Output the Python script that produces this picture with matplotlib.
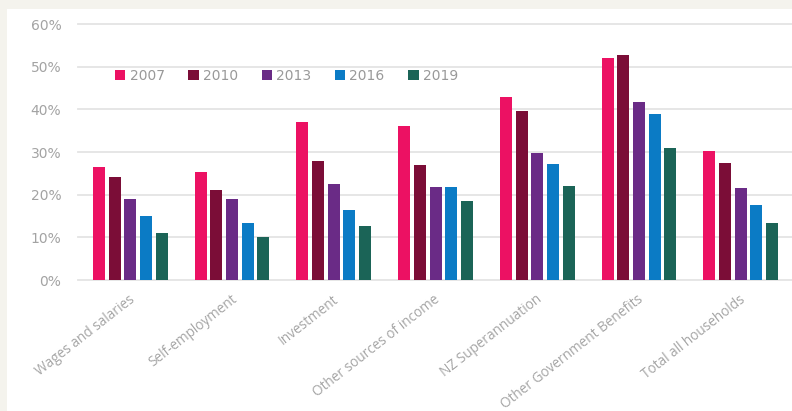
import numpy as np
import matplotlib.pyplot as plt
from matplotlib.patches import Rectangle


# --- Data ---
categories = [
    "Wages and salaries",
    "Self-employment",
    "Investment",
    "Other sources of income",
    "NZ Superannuation",
    "Other Government Benefits",
    "Total all households",
]
years = ["2007", "2010", "2013", "2016", "2019"]

share_2007 = [26.4, 25.4, 37.1, 36.2, 42.9, 52.0, 30.3]
share_2010 = [24.1, 21.2, 27.8, 27.0, 39.5, 52.7, 27.4]
share_2013 = [19.0, 19.1, 22.6, 21.9, 29.7, 41.8, 21.6]
share_2016 = [15.1, 13.4, 16.4, 21.9, 27.2, 39.0, 17.5]
share_2019 = [10.9, 10.1, 12.7, 18.4, 22.1, 30.9, 13.3]

y_ticks = [0, 10, 20, 30, 40, 50, 60]

series = [share_2007, share_2010, share_2013, share_2016, share_2019]
colors = ["#ec1163", "#7b0d37", "#6a2b86", "#0b7bc5", "#1b6457"]

W, H = 792, 411
fig = plt.figure(figsize=(W / 100, H / 100), dpi=100)
fig.set_facecolor("#f4f3ed")

# white panel behind the chart
fig.patches.append(Rectangle((7 / W, 0), 1, (H - 9) / H, transform=fig.transFigure,
                             facecolor="white", edgecolor="none", zorder=-5))

ax_left, ax_bottom, ax_top = 78, 280, 24
ax = fig.add_axes([ax_left / W, (H - ax_bottom) / H, (W - ax_left) / W, (ax_bottom - ax_top) / H])
ax.set_facecolor("none")

# --- Bars ---
x = np.arange(len(categories))
pitch = 0.154
width = 0.118
handles = []
for j, (vals, col, yr) in enumerate(zip(series, colors, years)):
    b = ax.bar(x + (j - 2) * pitch, vals, width=width, color=col, label=yr, zorder=3)
    handles.append(b)

ax.set_xlim(-0.515, 6.505)
ax.set_ylim(0, 60)

# --- Axes styling ---
for s in ax.spines.values():
    s.set_visible(False)
ax.set_yticks(y_ticks)
ax.set_yticklabels([f"{v}%" for v in y_ticks], family="DejaVu Sans", fontsize=10, color="#a3a3a3")
ax.yaxis.grid(True, color="#e4e4e4", linewidth=1.3, zorder=0)
for gl in ax.get_ygridlines():
    gl.set_clip_on(False)
ax.tick_params(axis="y", length=0, pad=12)

ax.set_xticks(x + 0.03)
ax.set_xticklabels(categories, rotation=38, ha="right", va="center", rotation_mode="anchor",
                   family="Open Sans", fontsize=9.8, color="#a5a5a5")
ax.tick_params(axis="x", length=0, pad=13)

# --- Legend ---
leg = ax.legend(handles=handles, ncol=5, loc="center left",
                bbox_to_anchor=(115 / W, (H - 76) / H), bbox_transform=fig.transFigure,
                frameon=False, borderpad=0, borderaxespad=0,
                handlelength=0.75, handleheight=0.75, handletextpad=0.3,
                columnspacing=1.7, prop={"family": "DejaVu Sans", "size": 10})
for t in leg.get_texts():
    t.set_color("#999999")

fig.savefig("out.png", dpi=100, facecolor=fig.get_facecolor())
